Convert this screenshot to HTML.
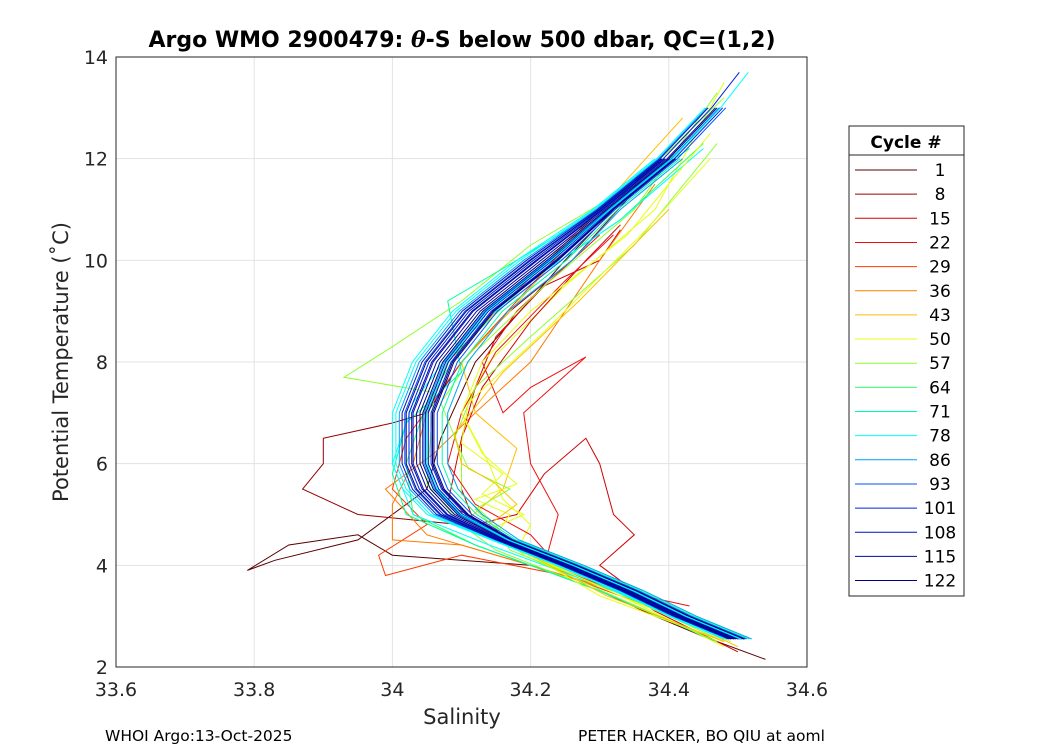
<!DOCTYPE html>
<html><head><meta charset="utf-8"><style>
body{margin:0;background:#fff}
svg{font-family:"DejaVu Sans","Liberation Sans",sans-serif}
</style></head><body>
<svg id="chart" width="1050" height="750" xmlns="http://www.w3.org/2000/svg">
<rect width="1050" height="750" fill="#fff"/>
<g id="grid"></g>
<g id="lines"></g>
<rect x="116" y="57" width="691" height="610" fill="none" stroke="#262626" stroke-width="1"/>
<g id="ticks"></g>
<text x="462" y="47" text-anchor="middle" font-size="22" font-weight="bold" fill="#000">Argo WMO 2900479: <tspan font-style="italic" font-family="DejaVu Serif">θ</tspan>-S below 500 dbar,  QC=(1,2)</text>
<text x="462" y="724" text-anchor="middle" font-size="21" fill="#262626">Salinity</text>
<text transform="translate(68,362) rotate(-90)" text-anchor="middle" font-size="21" fill="#262626">Potential Temperature (˚C)</text>
<text x="105" y="741" font-size="15.5" fill="#000">WHOI Argo:13-Oct-2025</text>
<text x="578" y="741" font-size="15.5" fill="#000">PETER HACKER, BO QIU at aoml</text>
<g id="legend">
<rect x="849" y="126" width="115" height="470" fill="#fff" stroke="#262626" stroke-width="1"/>
<line x1="849" y1="155" x2="964" y2="155" stroke="#262626"/>
<text x="906" y="148" text-anchor="middle" font-size="17" font-weight="bold">Cycle #</text>
</g>
</svg>
<script>
const NS='http://www.w3.org/2000/svg';
const legendCycles=[1,8,15,22,29,36,43,50,57,64,71,78,86,93,101,108,115,122];
const legendColors=['#5a0000','#960000','#d20000','#ef1010','#ff3a00','#ff7a00','#ffbf00','#e5ff10','#8fff30','#30ff60','#00ffa0','#00ffff','#00a0ff','#0050ff','#0020e0','#0010c0','#0008a0','#000080'];
const xTicks=[33.6,33.8,34,34.2,34.4,34.6];
const xTickLabels=['33.6','33.8','34','34.2','34.4','34.6'];
const yTicks=[2,4,6,8,10,12,14];
const yTickLabels=['2','4','6','8','10','12','14'];
const profColor=[0,1,2,3,4,5,5,6,7,8,8,9,10,11,2,3,7,8,7,6];
const profS=[
[34.54,34.45,34.38,34.3,34.2,34.0,33.95,33.85,33.79,33.83,33.95,34.0,34.05,34.07,34.12,34.25,34.32],
[34.46,34.32,34.23,34.1,33.95,33.87,33.9,33.9,34.0,34.05,34.1,34.17,34.26,34.36],
[34.4,34.34,34.3,34.35,34.32,34.3,34.28,34.22,34.18,34.12,34.1,34.1,34.12,34.15,34.22,34.3,34.33],
[34.43,34.33,34.22,34.24,34.2,34.19,34.28,34.2,34.16,34.13,34.18,34.3],
[34.45,34.35,34.25,34.1,33.99,33.98,34.05,34.0,34.02,34.1,34.2,34.3],
[34.47,34.32,34.2,34.1,34.0,34.0,34.03,34.05,34.08,34.15,34.3],
[34.46,34.3,34.15,34.05,33.99,34.06,34.12,34.2,34.3,34.38],
[34.5,34.36,34.2,34.1,34.16,34.18,34.12,34.1,34.17,34.3,34.42],
[34.48,34.33,34.18,34.2,34.16,34.14,34.1,34.14,34.25,34.38,34.48],
[34.48,34.32,34.17,34.15,34.1,34.1,34.07,34.12,34.22,34.35,34.47],
[34.47,34.3,34.15,34.1,34.05,34.06,33.93,34.0,34.1,34.2,34.35,34.48],
[34.47,34.3,34.12,34.03,34.02,34.05,34.1,34.2,34.33,34.45],
[34.47,34.3,34.12,34.02,34.0,34.02,34.06,34.1,34.08,34.18,34.3,34.43],
[34.49,34.32,34.14,34.03,34.0,34.03,34.09,34.2,34.33,34.45],
[34.5,34.38,34.3,34.2,34.15,34.08,34.1,34.13,34.2,34.28,34.33],
[34.46,34.35,34.24,34.2,34.12,34.08,34.1,34.15,34.25,34.32],
[34.48,34.3,34.2,34.15,34.17,34.12,34.18,34.13,34.1,34.13,34.2,34.34,34.46],
[34.47,34.32,34.19,34.16,34.12,34.17,34.11,34.09,34.12,34.2,34.35,34.47],
[34.49,34.33,34.2,34.14,34.19,34.13,34.16,34.1,34.11,34.22,34.36,34.46],
[34.48,34.31,34.2,34.13,34.18,34.15,34.1,34.09,34.16,34.27,34.4]];
const profT=[
[2.15,2.6,3,3.5,4,4.2,4.6,4.4,3.9,4.1,4.5,5,5.5,6.5,8,10,11],
[2.8,3.5,4,4.8,5,5.5,6,6.5,6.8,7,8,9,10,11.5],
[3,3.6,4,4.6,5,6,6.5,5.8,5,4.8,5.5,6.5,7.5,8.5,9.5,10,10.6],
[3.2,3.5,4,5,6,7,8.1,7.5,7,8,9,10.5],
[2.8,3.3,3.8,4.2,3.8,4.2,4.8,5.5,6.5,8,9.5,11],
[2.7,3.5,4,4.4,4.5,5.2,6,7,8,9,11],
[2.8,3.6,4.2,4.6,5.5,6.2,7,8,10,11.5],
[2.4,3.3,4.2,4.8,5.5,6.3,7,8,9,11,12.8],
[2.4,3.4,4.3,4.8,5.3,6.0,7,8,9.5,11,13.5],
[2.5,3.5,4.3,4.8,5.4,6.2,7.2,8.2,9.5,11,13.3],
[2.5,3.5,4.3,4.8,5.6,7.4,7.7,8.3,9.2,10.3,11.5,13.2],
[2.5,3.5,4.4,5.0,6.0,7.2,8.3,9.6,10.8,12.3],
[2.5,3.5,4.4,5.0,5.8,6.8,7.3,7.8,9.2,10,11,12.2],
[2.5,3.5,4.4,5.0,6.0,7.2,8.3,9.6,10.8,12.2],
[2.3,3.1,3.8,4.3,4.7,5.2,6.5,7.5,8.8,10,10.7],
[2.8,3.4,4.0,4.6,5.2,6,7,8.2,9.6,10.5],
[2.5,3.4,4.2,4.6,5.0,5.3,5.6,6.2,7,8,9,10.5,12.5],
[2.5,3.4,4.2,4.6,5.1,5.5,5.9,6.5,7.5,8.5,10.3,12.3],
[2.5,3.4,4.2,4.7,5.0,5.4,5.8,6.4,7.2,8.6,10.5,12.0],
[2.5,3.4,4.2,4.7,5.2,5.6,6.0,6.6,7.8,9.2,11]];
const baseT=[2.55,3,3.5,4,4.5,5,5.5,6,7,8,9,10,11,12,13,13.7];
const baseS=[34.5,34.42,34.344,34.257,34.163,34.09,34.055,34.04,34.04,34.069,34.127,34.22,34.31,34.4,34.47,34.51];
const bandOffsets=[-0.04,-0.03,-0.022,-0.016,-0.01,-0.005,0,0.004,0.008,0.012,0.016,0.02,0.025,-0.012,0.006,-0.02,0.01,0.032,-0.035,0.04,-0.026,0.018];
const bandColors=[11,12,13,14,15,16,17,17,16,15,14,17,13,16,12,17,11,10,11,12,15,17];
const bandTopT=[12.6,13.2,12.3,13.7,12.8,13.4,13.0,12.5,13.6,12.9,13.1,12.4,13.5,12.7,13.3,12.2,13.8,12.6,13.0,12.4,13.2,12.9];
const xs=s=>116+(s-33.6)*691;
const ys=t=>667-(t-2)*(610/12);
const G=document.getElementById('grid'),L=document.getElementById('lines'),T=document.getElementById('ticks'),LG=document.getElementById('legend');
function mk(tag,at,par){const e=document.createElementNS(NS,tag);for(const k in at)e.setAttribute(k,at[k]);par.appendChild(e);return e;}
xTicks.forEach((v,i)=>{
 const g=mk('line',{x1:xs(v),x2:xs(v),y1:57,y2:667,stroke:'#e3e3e3'},G);
 
 
 const t=mk('text',{x:xs(v),y:696,'text-anchor':'middle','font-size':19,fill:'#262626'},T);
 t.textContent=xTickLabels[i];
 
 
});
yTicks.forEach((v,i)=>{
 const g=mk('line',{x1:116,x2:807,y1:ys(v),y2:ys(v),stroke:'#e3e3e3'},G);
 
 
 const t=mk('text',{x:108,y:ys(v)+7,'text-anchor':'end','font-size':19,fill:'#262626'},T);
 t.textContent=yTickLabels[i];
 
 
});
function drawProfile(sArr,tArr,color,w){
 const pts=sArr.map((s,i)=>xs(s).toFixed(1)+','+ys(tArr[i]).toFixed(1)).join(' ');
 const p=mk('polyline',{points:pts,fill:'none',stroke:color,'stroke-width':w},L);
 
 
}
profS.forEach((s,i)=>drawProfile(s,profT[i],legendColors[profColor[i]],1));
bandOffsets.forEach((o,i)=>{
 const s=[],t=[];
 baseT.forEach((v,j)=>{ if(v<=bandTopT[i]){ s.push(baseS[j]+o*(v>4.5&&v<11?1:0.5)); t.push(v);} });
 drawProfile(s,t,legendColors[bandColors[i]],1);
});
legendCycles.forEach((c,i)=>{
 const y=170+i*24.15;
 const l=mk('line',{x1:855,x2:917,y1:y,y2:y,stroke:legendColors[i],'stroke-width':1},LG);
 
 
 const t=mk('text',{x:940,y:y+6,'text-anchor':'middle','font-size':17,fill:'#000'},LG);
 t.textContent=c;
 
 
});
</script>
</body></html>
